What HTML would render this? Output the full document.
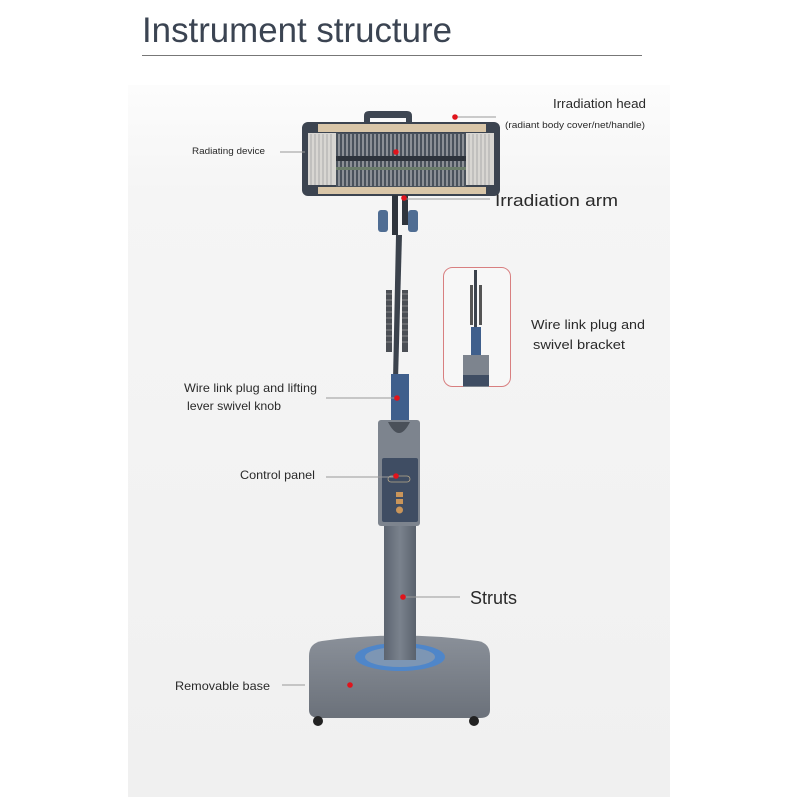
<!DOCTYPE html>
<html><head><meta charset="utf-8"><style>
html,body{margin:0;padding:0;background:#fff;width:800px;height:800px;overflow:hidden}
svg{display:block}
text{font-family:"Liberation Sans",sans-serif;fill:#2a2a2a}
</style></head><body>
<svg width="800" height="800" viewBox="0 0 800 800" xmlns="http://www.w3.org/2000/svg">
<defs>
<linearGradient id="bg" x1="0" y1="0" x2="0" y2="1">
<stop offset="0" stop-color="#fcfcfc"/><stop offset="0.15" stop-color="#f5f5f5"/><stop offset="1" stop-color="#f0f0f0"/></linearGradient>
<linearGradient id="strut" x1="0" x2="1"><stop offset="0" stop-color="#5c6470"/><stop offset="0.5" stop-color="#7a828d"/><stop offset="1" stop-color="#5a626d"/></linearGradient>
<linearGradient id="base" x1="0" y1="0" x2="0" y2="1"><stop offset="0" stop-color="#8a9099"/><stop offset="1" stop-color="#6b717a"/></linearGradient>
</defs>
<rect x="128" y="85" width="542" height="712" fill="url(#bg)"/>
<text x="142" y="42" font-size="35" textLength="310" lengthAdjust="spacingAndGlyphs" style="fill:#3b4452;font-weight:300">Instrument structure</text>
<line x1="142" y1="55.5" x2="642" y2="55.5" stroke="#777" stroke-width="1"/>

<path d="M364 124 V116 Q364 111 369 111 H407 Q412 111 412 116 V124 H406 V118 H370 V124 Z" fill="#3e4652"/>
<rect x="302" y="122" width="198" height="74" rx="6" fill="#3c4450"/>
<rect x="318" y="124" width="168" height="8" fill="#d9c6a8"/>
<rect x="318" y="187" width="168" height="7" fill="#d9c6a8"/>
<rect x="308" y="133" width="28" height="52" fill="#d8d6d2"/>
<rect x="466" y="133" width="28" height="52" fill="#d8d6d2"/>
<rect x="336" y="133" width="130" height="54" fill="#4a525c"/>
<g stroke="#cfcfcf" stroke-width="1">
<path d="M339 134V186M343 134V186M347 134V186M351 134V186M355 134V186M359 134V186M363 134V186M367 134V186M371 134V186M375 134V186M379 134V186M383 134V186M387 134V186M391 134V186M395 134V186M399 134V186M403 134V186M407 134V186M411 134V186M415 134V186M419 134V186M423 134V186M427 134V186M431 134V186M435 134V186M439 134V186M443 134V186M447 134V186M451 134V186M455 134V186M459 134V186M463 134V186"/>
</g>
<g stroke="#aaa" stroke-width="1"><path d="M311 134V185M315 134V185M319 134V185M323 134V185M327 134V185M331 134V185M469 134V185M473 134V185M477 134V185M481 134V185M485 134V185M489 134V185"/></g>
<rect x="336" y="156" width="130" height="5" fill="#2d333b"/>
<rect x="336" y="167" width="130" height="3" fill="#6b7d6a"/>
<rect x="392" y="195" width="6" height="40" fill="#2f353d"/>
<rect x="402" y="195" width="6" height="30" fill="#2f353d"/>
<rect x="378" y="210" width="10" height="22" rx="3" fill="#4f6d93"/>
<rect x="408" y="210" width="10" height="22" rx="3" fill="#4f6d93"/>
<path d="M396 235 L402 235 L398 380 L393 380 Z" fill="#3b424c"/>
<rect x="386" y="290" width="6" height="62" fill="#4b4f55"/>
<rect x="402" y="290" width="6" height="62" fill="#4b4f55"/>
<g stroke="#999" stroke-width="0.8"><path d="M386 294H392M386 300H392M386 306H392M386 312H392M386 318H392M386 324H392M386 330H392M386 336H392M386 342H392M402 294H408M402 300H408M402 306H408M402 312H408M402 318H408M402 324H408M402 330H408M402 336H408M402 342H408"/></g>
<rect x="391" y="374" width="18" height="52" fill="#3f5f8c"/>
<rect x="378" y="420" width="42" height="106" rx="3" fill="#7d848e"/>
<path d="M388 422 Q399 444 410 422 Z" fill="#4a5059"/>
<rect x="382" y="458" width="36" height="64" rx="2" fill="#3f4d63"/>
<rect x="388" y="476" width="22" height="6" rx="3" fill="none" stroke="#b9a98a" stroke-width="0.8"/>
<rect x="396" y="492" width="7" height="5" fill="#c9955a"/>
<rect x="396" y="499" width="7" height="5" fill="#c9955a"/>
<circle cx="399.5" cy="510" r="3.5" fill="#c9955a"/>
<rect x="384" y="526" width="32" height="136" fill="url(#strut)"/>
<path d="M322 641 Q400 630 478 641 Q490 643 490 656 V710 Q490 718 480 718 H320 Q309 718 309 710 V656 Q309 643 322 641 Z" fill="url(#base)"/>
<ellipse cx="400" cy="657" rx="45" ry="14" fill="#4f86c9"/>
<ellipse cx="400" cy="657" rx="35" ry="10" fill="#7d96b4"/>
<rect x="384" y="630" width="32" height="30" fill="url(#strut)"/>
<circle cx="318" cy="721" r="5" fill="#222"/>
<circle cx="474" cy="721" r="5" fill="#222"/>

<rect x="443.5" y="267.5" width="67" height="119" rx="9" fill="#f7f7f7" stroke="#d87f80" stroke-width="1"/>
<rect x="474" y="270" width="3" height="70" fill="#3b424c"/>
<rect x="470" y="285" width="3" height="40" fill="#555"/>
<rect x="479" y="285" width="3" height="40" fill="#555"/>
<rect x="471" y="327" width="10" height="35" fill="#3f5f8c"/>
<rect x="463" y="355" width="26" height="32" fill="#7d848e"/>
<rect x="463" y="375" width="26" height="11" fill="#3f4d63"/>

<g stroke="#999" stroke-width="1">
<line x1="456" y1="117" x2="496" y2="117"/>
<line x1="280" y1="152" x2="305" y2="152"/>
<line x1="405" y1="199" x2="490" y2="199"/>
<line x1="326" y1="398" x2="397" y2="398"/>
<line x1="326" y1="477" x2="396" y2="477"/>
<line x1="404" y1="597" x2="460" y2="597"/>
<line x1="282" y1="685" x2="305" y2="685"/>
</g>
<g fill="#e0141c">
<circle cx="455" cy="117" r="2.8"/><circle cx="396" cy="152" r="2.8"/><circle cx="404" cy="198" r="2.8"/>
<circle cx="397" cy="398" r="2.8"/><circle cx="396" cy="476" r="2.8"/><circle cx="403" cy="597" r="2.8"/><circle cx="350" cy="685" r="2.8"/>
</g>

<text x="553" y="108" font-size="12.5" textLength="93" lengthAdjust="spacingAndGlyphs">Irradiation head</text>
<text x="505" y="128" font-size="9" textLength="140" lengthAdjust="spacingAndGlyphs">(radiant body cover/net/handle)</text>
<text x="192" y="154" font-size="9" textLength="73" lengthAdjust="spacingAndGlyphs">Radiating device</text>
<text x="495" y="206" font-size="17" textLength="123" lengthAdjust="spacingAndGlyphs">Irradiation arm</text>
<text x="531" y="329" font-size="13" textLength="114" lengthAdjust="spacingAndGlyphs">Wire link plug and</text>
<text x="533" y="349" font-size="13" textLength="92" lengthAdjust="spacingAndGlyphs">swivel bracket</text>
<text x="184" y="392" font-size="12" textLength="133" lengthAdjust="spacingAndGlyphs">Wire link plug and lifting</text>
<text x="187" y="410" font-size="12" textLength="94" lengthAdjust="spacingAndGlyphs">lever swivel knob</text>
<text x="240" y="479" font-size="12" textLength="75" lengthAdjust="spacingAndGlyphs">Control panel</text>
<text x="470" y="604" font-size="18" textLength="47" lengthAdjust="spacingAndGlyphs">Struts</text>
<text x="175" y="690" font-size="12" textLength="95" lengthAdjust="spacingAndGlyphs">Removable base</text>
</svg>
</body></html>
